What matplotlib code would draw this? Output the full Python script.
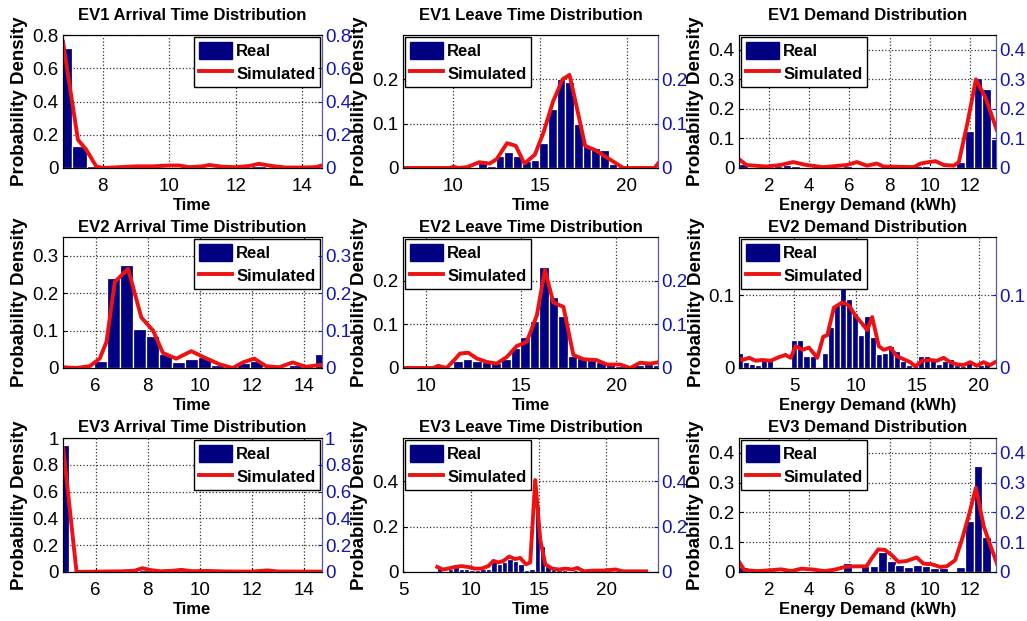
import matplotlib
matplotlib.use("Agg")
import matplotlib.pyplot as plt
from matplotlib.patches import Patch
from matplotlib.ticker import FuncFormatter

plt.rcParams["font.family"] = ["Liberation Sans", "DejaVu Sans"]

# ---------------- data ----------------
# EV1 arrival time
ev1_arr_bins = [6.85, 7.3, 7.75, 8.2, 8.65, 9.1, 9.55, 10.0, 10.45, 10.9, 11.35, 11.8,
                12.25, 12.7, 13.15, 13.6, 14.05, 14.5]
ev1_arr_real = [0.72, 0.13, 0.012, 0.002, 0.003, 0.004, 0.004, 0.004, 0.008, 0.004, 0.006,
                0.003, 0.003, 0.012, 0.004, 0.002, 0.002, 0.004]
ev1_arr_sim_x = [6.8, 7.25, 7.5, 7.8, 8.0, 8.5, 9.0, 9.5, 10.0, 10.3, 10.6, 11.0, 11.2, 11.6,
                 12.0, 12.4, 12.7, 13.1, 13.5, 14.0, 14.4, 14.6]
ev1_arr_sim_y = [0.76, 0.17, 0.11, 0.01, 0.0, 0.005, 0.01, 0.01, 0.015, 0.015, 0.005, 0.01,
                 0.018, 0.008, 0.005, 0.012, 0.025, 0.012, 0.003, 0.003, 0.005, 0.015]

# EV1 leave time
ev1_lv_bins = [11.7, 12.2, 12.7, 13.2, 13.7, 14.2, 14.7, 15.2, 15.7, 16.2, 16.7, 17.2, 17.7,
               18.2, 18.7, 19.2]
ev1_lv_real = [0.011, 0.004, 0.027, 0.036, 0.028, 0.015, 0.019, 0.057, 0.134, 0.2, 0.195,
               0.099, 0.05, 0.046, 0.04, 0.008]
ev1_lv_sim_x = [7.1, 9.8, 10.0, 10.3, 10.8, 11.5, 12.1, 12.5, 13.1, 13.6, 14.1, 14.7, 15.2,
                15.75, 16.3, 16.7, 17.1, 17.6, 18.2, 18.8, 19.4, 19.8, 21.6, 21.8]
ev1_lv_sim_y = [0.0, 0.0, 0.003, 0.0, 0.002, 0.013, 0.01, 0.02, 0.056, 0.05, 0.01, 0.03, 0.08,
                0.15, 0.2, 0.21, 0.14, 0.05, 0.04, 0.025, 0.01, 0.0, 0.0, 0.01]

# demand bins (EV1 and EV3)
demand_bins = [0.72, 1.15, 1.59, 2.02, 2.45, 2.89, 3.32, 3.75, 4.18, 4.62, 5.05, 5.48, 5.92,
               6.35, 6.78, 7.22, 7.65, 8.08, 8.51, 8.95, 9.38, 9.81, 10.25, 10.68, 11.11,
               11.54, 11.98, 12.41, 12.84, 13.28]

# EV1 demand
ev1_dem_real = [0.012, 0.004, 0.003, 0.004, 0.008, 0.01, 0.006, 0.003, 0.002, 0.003, 0.002,
                0.004, 0.008, 0.003, 0.005, 0.003, 0.002, 0.002, 0.003, 0.005, 0.006, 0.008,
                0.004, 0.005, 0.003, 0.02, 0.126, 0.305, 0.268, 0.098]
ev1_dem_sim_x = [0.5, 0.87, 1.87, 2.54, 3.2, 3.87, 4.7, 5.87, 6.37, 6.87, 7.37, 7.7, 9.2, 9.54,
                 9.95, 10.29, 10.7, 11.2, 11.45, 11.87, 12.3, 12.79, 13.33]
ev1_dem_sim_y = [0.03, 0.01, 0.005, 0.01, 0.02, 0.01, 0.003, 0.01, 0.02, 0.008, 0.015, 0.005,
                 0.003, 0.015, 0.02, 0.023, 0.01, 0.008, 0.02, 0.15, 0.3, 0.236, 0.13]

# EV2 arrival time
ev2_arr_bins = [4.7, 5.2, 5.7, 6.2, 6.7, 7.2, 7.7, 8.2, 8.7, 9.2, 9.7, 10.2, 10.7, 11.2, 11.7,
                12.2, 12.7, 13.2, 13.7, 14.2, 14.7]
ev2_arr_real = [0.003, 0.004, 0.002, 0.02, 0.24, 0.275, 0.103, 0.085, 0.038, 0.015, 0.025,
                0.03, 0.009, 0.004, 0.013, 0.02, 0.004, 0.002, 0.009, 0.003, 0.038]
ev2_arr_sim_x = [4.76, 5.27, 5.78, 6.16, 6.42, 6.74, 7.25, 7.76, 8.21, 8.59, 9.1, 9.68, 10.12,
                 10.76, 11.27, 11.66, 12.1, 12.55, 13.06, 13.57, 14.08, 14.59, 14.7]
ev2_arr_sim_y = [0.002, 0.0, 0.005, 0.025, 0.07, 0.23, 0.265, 0.135, 0.1, 0.04, 0.025, 0.045,
                 0.03, 0.01, 0.0, 0.015, 0.025, 0.005, 0.002, 0.015, 0.003, 0.008, 0.008]

# EV2 leave time
ev2_lv_bins = [9.2, 9.7, 10.2, 10.7, 11.2, 11.7, 12.2, 12.7, 13.2, 13.7, 14.2, 14.7, 15.2, 15.7,
               16.2, 16.7, 17.2, 17.7, 18.2, 18.7, 19.2, 19.7, 20.2, 20.7, 21.2, 21.7, 22.2]
ev2_lv_real = [0.001, 0.0, 0.001, 0.005, 0.003, 0.017, 0.02, 0.017, 0.013, 0.011, 0.02, 0.046,
               0.07, 0.108, 0.232, 0.163, 0.118, 0.028, 0.022, 0.018, 0.013, 0.009, 0.004,
               0.002, 0.008, 0.009, 0.008]
ev2_lv_sim_x = [8.77, 9.86, 10.39, 10.65, 11.09, 11.53, 11.79, 12.23, 12.67, 13.19, 13.72,
                14.25, 14.77, 15.3, 15.83, 16.26, 16.7, 17.23, 17.75, 18.28, 18.98, 19.51,
                20.21, 20.74, 21.26, 21.79, 22.2]
ev2_lv_sim_y = [0.0, 0.0, 0.0, 0.005, 0.0, 0.02, 0.033, 0.035, 0.022, 0.014, 0.01, 0.025, 0.05,
                0.06, 0.12, 0.225, 0.15, 0.14, 0.03, 0.02, 0.018, 0.008, 0.008, 0.0, 0.012,
                0.01, 0.013]

# EV2 demand
ev2_dem_bins = [0.6, 1.09, 1.58, 2.07, 2.56, 3.05, 3.54, 4.03, 4.52, 5.01, 5.5, 5.99, 6.48,
                6.97, 7.46, 7.95, 8.44, 8.93, 9.42, 9.91, 10.4, 10.89, 11.38, 11.87, 12.36,
                12.85, 13.34, 13.83, 14.32, 14.81, 15.3, 15.79, 16.28, 16.77, 17.26, 17.75,
                18.24, 18.73, 19.22, 19.71, 20.2, 20.69]
ev2_dem_real = [0.02, 0.008, 0.006, 0.004, 0.012, 0.012, 0.0, 0.0, 0.001, 0.038,
                0.038, 0.016, 0.016, 0.0, 0.02, 0.056, 0.086, 0.112, 0.095, 0.076,
                0.045, 0.072, 0.042, 0.019, 0.02, 0.03, 0.023, 0.01, 0.004, 0.0,
                0.016, 0.016, 0.011, 0.005, 0.01, 0.012, 0.004, 0.003, 0.009, 0.002,
                0.004, 0.006]
ev2_dem_sim_x = [0.5, 0.78, 1.33, 1.86, 2.4, 3.08, 3.76, 4.29, 4.7, 5.11, 5.65, 6.19, 6.87,
                 7.35, 7.68, 8.22, 8.89, 9.44, 9.97, 10.51, 10.92, 11.33, 11.87, 12.27, 12.81,
                 13.35, 13.9, 14.43, 14.84, 15.38, 16.06, 16.6, 17.14, 17.68, 18.22, 18.76,
                 19.3, 19.84, 20.38, 20.92, 21.33]
ev2_dem_sim_y = [0.014, 0.011, 0.014, 0.01, 0.011, 0.01, 0.015, 0.018, 0.014, 0.03, 0.025,
                 0.028, 0.014, 0.043, 0.045, 0.083, 0.09, 0.086, 0.072, 0.061, 0.052, 0.07,
                 0.03, 0.025, 0.028, 0.016, 0.012, 0.008, 0.002, 0.01, 0.011, 0.01, 0.014,
                 0.008, 0.005, 0.004, 0.008, 0.003, 0.008, 0.004, 0.008]

# EV3 arrival time
ev3_arr_bins = [4.75, 5.2, 5.65, 6.1, 6.55, 7.0, 7.45, 7.9, 8.35, 8.8, 9.25, 9.7, 10.15, 10.6,
                11.05, 11.5, 11.95, 12.4, 12.85, 13.3, 13.75, 14.2, 14.65]
ev3_arr_real = [0.945, 0.002, 0.001, 0.001, 0.002, 0.003, 0.006, 0.015, 0.006, 0.004, 0.01,
                0.004, 0.003, 0.005, 0.002, 0.002, 0.002, 0.003, 0.008, 0.002, 0.002, 0.002,
                0.002]
ev3_arr_sim_x = [4.76, 5.27, 6.0, 7.0, 7.5, 7.8, 8.1, 8.5, 9.0, 9.3, 9.7, 10.3, 11.0, 12.0,
                 12.6, 13.0, 14.0, 14.7]
ev3_arr_sim_y = [0.924, 0.0, 0.003, 0.005, 0.01, 0.028, 0.015, 0.005, 0.01, 0.016, 0.006,
                 0.008, 0.004, 0.003, 0.012, 0.004, 0.003, 0.003]

# EV3 leave time
ev3_lv_bins = [7.7, 8.1, 8.5, 8.9, 9.3, 9.7, 10.1, 10.5, 10.9, 11.3, 11.7, 12.1, 12.5, 12.9,
               13.3, 13.7, 14.1, 14.5, 14.9, 15.3, 15.7, 16.1, 16.5, 16.9, 17.3, 17.7, 18.1,
               18.5, 18.9, 19.3, 19.7, 20.1, 20.5, 20.9, 21.3, 21.7, 22.1, 22.5, 22.9]
ev3_lv_real = [0.022, 0.006, 0.015, 0.02, 0.015, 0.012, 0.008, 0.01, 0.015, 0.012, 0.054,
               0.037, 0.042, 0.057, 0.049, 0.034, 0.011, 0.015, 0.29, 0.115, 0.026, 0.015,
               0.01, 0.008, 0.006, 0.008, 0.003, 0.004, 0.002, 0.003, 0.002, 0.002, 0.003,
               0.002, 0.002, 0.002, 0.001, 0.002, 0.003]
ev3_lv_sim_x = [7.53, 7.95, 8.32, 8.81, 9.31, 9.81, 10.3, 10.79, 11.29, 11.66, 12.03, 12.41,
                12.82, 13.27, 13.64, 14.06, 14.38, 14.75, 15.12, 15.49, 15.99, 16.49, 16.98,
                17.48, 17.85, 18.34, 18.96, 19.7, 20.69, 21.19, 22.18, 22.92]
ev3_lv_sim_y = [0.022, 0.011, 0.015, 0.022, 0.026, 0.022, 0.015, 0.015, 0.026, 0.049, 0.042,
                0.049, 0.068, 0.057, 0.062, 0.034, 0.042, 0.405, 0.142, 0.034, 0.015, 0.011,
                0.015, 0.011, 0.018, 0.003, 0.006, 0.006, 0.011, 0.003, 0.003, 0.003]

# EV3 demand
ev3_dem_real = [0.017, 0.003, 0.002, 0.003, 0.002, 0.004, 0.003, 0.005, 0.003, 0.002, 0.003,
                0.004, 0.031, 0.005, 0.019, 0.02, 0.068, 0.037, 0.023, 0.016, 0.025, 0.02,
                0.014, 0.014, 0.003, 0.018, 0.17, 0.357, 0.117, 0.005]
ev3_dem_sim_x = [0.5, 0.77, 1.44, 2.1, 2.6, 3.1, 3.6, 4.1, 4.77, 5.27, 5.77, 6.27, 6.85, 7.1,
                 7.44, 7.77, 8.1, 8.44, 8.85, 9.35, 9.69, 10.1, 10.52, 10.85, 11.27, 11.6,
                 11.94, 12.3, 12.69, 13.1, 13.35]
ev3_dem_sim_y = [0.034, 0.006, 0.003, 0.006, 0.009, 0.003, 0.011, 0.009, 0.003, 0.008, 0.017,
                 0.019, 0.019, 0.045, 0.076, 0.074, 0.057, 0.034, 0.037, 0.049, 0.028, 0.026,
                 0.017, 0.019, 0.04, 0.108, 0.188, 0.283, 0.153, 0.074, 0.028]

# ---------------- styling ----------------
BAR_COLOR = "#000080"
LINE_COLOR = "#ee1111"
RIGHT_COLOR = "#1515b5"
RIGHT_SPINE = "#5a5aa8"
W, H = 1027, 621

def fmt(v, _):
    return "%g" % round(v, 3)

# panel settings: (title, xlabel, bins, real, width, sim_x, sim_y, xlim, ylim, xticks, yticks, legend loc)
panels = [
    ("EV1 Arrival Time Distribution", "Time", ev1_arr_bins, ev1_arr_real, 0.45,
     ev1_arr_sim_x, ev1_arr_sim_y, (6.8, 14.6), (0, 0.8), [8, 10, 12, 14],
     [0, 0.2, 0.4, 0.6, 0.8], "upper right"),
    ("EV1 Leave Time Distribution", "Time", ev1_lv_bins, ev1_lv_real, 0.5,
     ev1_lv_sim_x, ev1_lv_sim_y, (7.1, 21.8), (0, 0.3), [10, 15, 20],
     [0, 0.1, 0.2], "upper left"),
    ("EV1 Demand Distribution", "Energy Demand (kWh)", demand_bins, ev1_dem_real, 0.433,
     ev1_dem_sim_x, ev1_dem_sim_y, (0.5, 13.3), (0, 0.45), [2, 4, 6, 8, 10, 12],
     [0, 0.1, 0.2, 0.3, 0.4], "upper left"),
    ("EV2 Arrival Time Distribution", "Time", ev2_arr_bins, ev2_arr_real, 0.5,
     ev2_arr_sim_x, ev2_arr_sim_y, (4.75, 14.7), (0, 0.35), [6, 8, 10, 12, 14],
     [0, 0.1, 0.2, 0.3], "upper right"),
    ("EV2 Leave Time Distribution", "Time", ev2_lv_bins, ev2_lv_real, 0.5,
     ev2_lv_sim_x, ev2_lv_sim_y, (8.8, 22.2), (0, 0.3), [10, 15, 20],
     [0, 0.1, 0.2], "upper left"),
    ("EV2 Demand Distribution", "Energy Demand (kWh)", ev2_dem_bins, ev2_dem_real, 0.49,
     ev2_dem_sim_x, ev2_dem_sim_y, (0.5, 21.4), (0, 0.18), [5, 10, 15, 20],
     [0, 0.1], "upper left"),
    ("EV3 Arrival Time Distribution", "Time", ev3_arr_bins, ev3_arr_real, 0.45,
     ev3_arr_sim_x, ev3_arr_sim_y, (4.75, 14.7), (0, 1.0), [6, 8, 10, 12, 14],
     [0, 0.2, 0.4, 0.6, 0.8, 1.0], "upper right"),
    ("EV3 Leave Time Distribution", "Time", ev3_lv_bins, ev3_lv_real, 0.4,
     ev3_lv_sim_x, ev3_lv_sim_y, (5, 23.8), (0, 0.59), [5, 10, 15, 20],
     [0, 0.2, 0.4], "upper left"),
    ("EV3 Demand Distribution", "Energy Demand (kWh)", demand_bins, ev3_dem_real, 0.433,
     ev3_dem_sim_x, ev3_dem_sim_y, (0.5, 13.3), (0, 0.45), [2, 4, 6, 8, 10, 12],
     [0, 0.1, 0.2, 0.3, 0.4], "upper left"),
]

# axes boxes in pixels
col_x = [(63, 322), (403, 658), (739, 996)]
row_y = [(35, 168), (237, 368), (438, 572)]
title_pads = [11, 3.5, 4.5]

fig = plt.figure(figsize=(W / 100, H / 100), dpi=100)

for i, p in enumerate(panels):
    (title, xlabel, bins, real, width, sx, sy, xlim, ylim, xticks, yticks, loc) = p
    r, c = divmod(i, 3)
    x0, x1 = col_x[c]
    y0, y1 = row_y[r]
    ax = fig.add_axes([x0 / W, 1 - y1 / H, (x1 - x0) / W, (y1 - y0) / H])

    ax.bar(bins, real, width=width, color=BAR_COLOR, edgecolor="white",
           linewidth=0.9, zorder=2)
    line, = ax.plot(sx, sy, color=LINE_COLOR, linewidth=2.8, zorder=3)

    ax.set_xlim(xlim)
    ax.set_ylim(ylim)
    ax.set_xticks(xticks)
    ax.set_yticks(yticks)
    ax.xaxis.set_major_formatter(FuncFormatter(fmt))
    ax.yaxis.set_major_formatter(FuncFormatter(fmt))
    ax.grid(True, linestyle=":", color="#333333", linewidth=0.9)
    ax.set_axisbelow(True)
    ax.tick_params(axis="both", direction="in", length=3, labelsize=13.5)
    ax.tick_params(axis="x", pad=7)
    ax.tick_params(axis="y", pad=3)

    ax.set_title(title, fontsize=12, fontweight="bold", pad=title_pads[r])
    ax.set_xlabel(xlabel, fontsize=12, fontweight="bold", labelpad=2.5)
    ax.set_ylabel("Probability Density", fontsize=13.5, fontweight="bold", labelpad=3)

    # legend: Real first, then Simulated
    real_handle = Patch(facecolor=BAR_COLOR, edgecolor=BAR_COLOR)
    leg = ax.legend([real_handle, line], ["Real", "Simulated"], loc=loc,
                    borderaxespad=0.1, prop={"weight": "bold", "size": 12},
                    handlelength=2.0, handleheight=1.25, handletextpad=0.25,
                    labelspacing=0.3, borderpad=0.3, fancybox=False, framealpha=1)
    leg.get_frame().set_edgecolor("black")
    leg.get_frame().set_linewidth(1.0)

    # right hand axis with blue labels
    ax2 = ax.twinx()
    ax2.set_ylim(ylim)
    ax2.set_yticks(yticks)
    ax2.yaxis.set_major_formatter(FuncFormatter(fmt))
    ax2.tick_params(axis="y", direction="in", length=3, labelsize=13.5, pad=2,
                    colors=RIGHT_COLOR)
    ax2.spines["right"].set_color(RIGHT_SPINE)

fig.savefig("out.png", dpi=100)
